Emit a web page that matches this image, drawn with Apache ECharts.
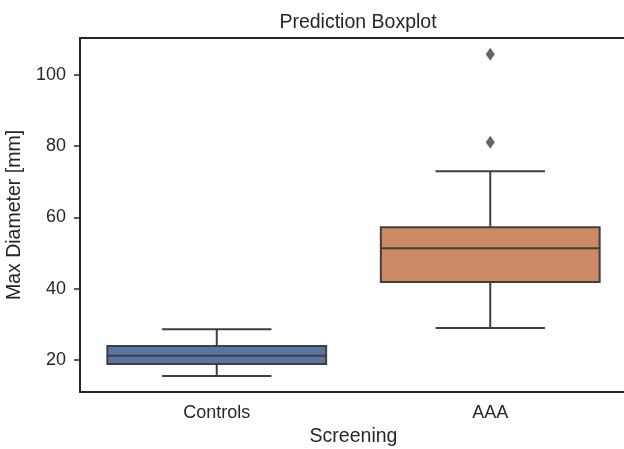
<!DOCTYPE html>
<html>
<head>
<meta charset="utf-8">
<script src="https://cdn.jsdelivr.net/npm/echarts@6/dist/echarts.min.js"></script>
<style>
  html, body { margin: 0; padding: 0; background: #fff; }
  #main { width: 624px; height: 449px; }
</style>
</head>
<body>
<div id="main"></div>
<script>
// categories and box stats: [low whisker, q1, median, q3, high whisker]
var categories = ['Controls', 'AAA'];
var boxStats = [
    [15.5, 18.9, 21.2, 23.9, 28.6],
    [29.0, 41.9, 51.3, 57.2, 72.9]
];
var boxColors = ['#5975a4', '#cc8963'];
var outliers = [
    ['AAA', 105.7],
    ['AAA', 81.0]
];
var yTicks = [20, 40, 60, 80, 100];

var lineColor = '#3f3f3f';
var ink = '#262626';

var boxData = boxStats.map(function (s, i) { return [i].concat(s); });

var myChart = echarts.init(document.getElementById('main'));

var option = {
    animation: false,
    textStyle: { fontFamily: 'Liberation Sans, Arial, sans-serif' },
    title: {
        text: 'Prediction Boxplot',
        left: 353,
        textAlign: 'center',
        top: 8,
        textStyle: { fontSize: 19.5, fontWeight: 'normal', color: ink }
    },
    grid: {
        left: 80, top: 38, right: -3, bottom: 57,
        containLabel: false,
        outerBoundsMode: 'none'
    },
    xAxis: [
        {
            type: 'category',
            data: categories,
            name: 'Screening',
            nameLocation: 'middle',
            nameGap: 34,
            nameTextStyle: { fontSize: 19.5, color: ink },
            axisLine: { lineStyle: { color: ink, width: 2 } },
            axisTick: { alignWithLabel: true, length: 6, lineStyle: { color: ink, width: 1.5 } },
            axisLabel: { fontSize: 18, color: ink, margin: 12 },
            splitLine: { show: false }
        },
        {
            // top spine only
            type: 'category',
            data: categories,
            position: 'top',
            axisLine: { lineStyle: { color: ink, width: 2 } },
            axisTick: { show: false },
            axisLabel: { show: false }
        }
    ],
    yAxis: {
        type: 'value',
        min: 11.04,
        max: 110.25,
        name: 'Max Diameter [mm]',
        nameLocation: 'middle',
        nameGap: 47,
        nameTextStyle: { fontSize: 19.5, color: ink },
        axisLine: { show: true, lineStyle: { color: ink, width: 2 } },
        axisTick: { show: true, length: 6, customValues: yTicks, lineStyle: { color: ink, width: 1.5 } },
        axisLabel: { fontSize: 18, color: ink, margin: 14, customValues: yTicks },
        splitLine: { show: false }
    },
    series: [
        {
            type: 'custom',
            data: boxData,
            encode: { x: 0, y: [1, 2, 3, 4, 5] },
            renderItem: function (params, api) {
                var idx = api.value(0);
                var band = api.size([1, 0])[0];
                var half = band * 0.4;
                var cap = half * 0.5;
                var lo = api.coord([idx, api.value(1)]);
                var q1 = api.coord([idx, api.value(2)]);
                var med = api.coord([idx, api.value(3)]);
                var q3 = api.coord([idx, api.value(4)]);
                var hi = api.coord([idx, api.value(5)]);
                var x = lo[0];
                var ls = { stroke: lineColor, lineWidth: 2 };
                return {
                    type: 'group',
                    children: [
                        { type: 'line', shape: { x1: x, y1: q3[1], x2: x, y2: hi[1] }, style: ls },
                        { type: 'line', shape: { x1: x, y1: q1[1], x2: x, y2: lo[1] }, style: ls },
                        { type: 'line', shape: { x1: x - cap, y1: hi[1], x2: x + cap, y2: hi[1] }, style: ls },
                        { type: 'line', shape: { x1: x - cap, y1: lo[1], x2: x + cap, y2: lo[1] }, style: ls },
                        { type: 'rect', shape: { x: x - half, y: q3[1], width: half * 2, height: q1[1] - q3[1] },
                          style: { fill: boxColors[idx], stroke: lineColor, lineWidth: 2 } },
                        { type: 'line', shape: { x1: x - half, y1: med[1], x2: x + half, y2: med[1] }, style: ls }
                    ]
                };
            }
        },
        {
            type: 'scatter',
            data: outliers,
            symbol: 'diamond',
            symbolSize: [9, 13],
            itemStyle: { color: lineColor }
        }
    ]
};

option && myChart.setOption(option);
</script>
</body>
</html>
